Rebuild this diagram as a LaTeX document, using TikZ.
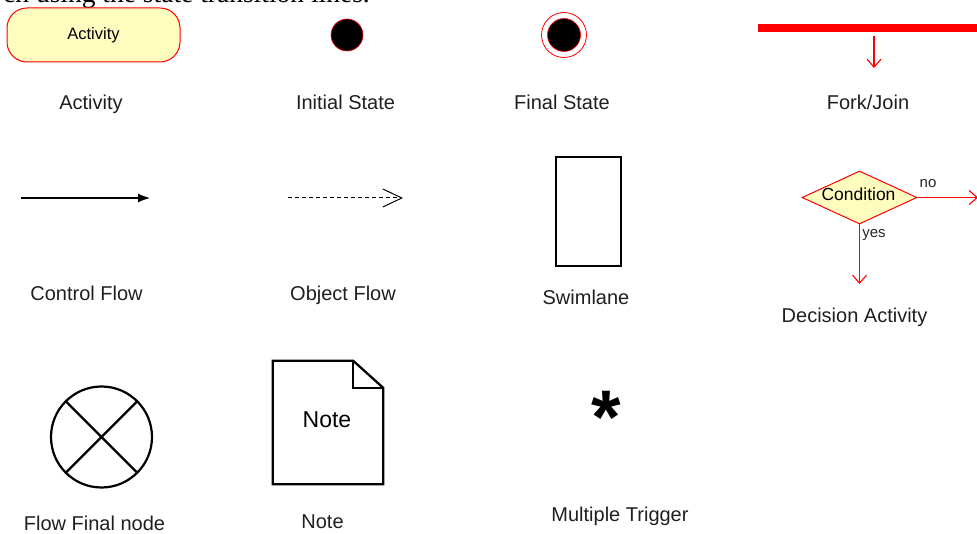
\documentclass[tikz,border=0pt]{standalone}
\usepackage{fontspec}
\setmainfont{Liberation Sans}
\newfontfamily\bodyserif{Liberation Serif}
\usetikzlibrary{arrows.meta,shapes.geometric}

\begin{document}
\begin{tikzpicture}[x=1pt,y=-1pt,
    lbl/.style={anchor=base,font=\fontsize{20}{24}\selectfont,text=black!88},
    small/.style={font=\fontsize{15}{18}\selectfont,text=black!85},
    pale/.style={fill=yellow!25},
    redline/.style={red,line width=1.1pt},
    openhead/.style={-{Straight Barb[length=8pt,width=14pt]}}]

\useasboundingbox (0,0) rectangle (977,534);

% last line of the text above the table
\node [anchor=base east,inner sep=0,font=\bodyserif\fontsize{27.5}{30}\selectfont] (txt) at (370,2.5) {ch using the state transition lines.};

%%%%%%%%%%%%%%%%%%%%%% ROW 1 %%%%%%%%%%%%%%%%%%%%%%

% Activity
\node [draw=red,line width=1pt,pale,rounded corners=20pt,minimum width=173pt,minimum height=54pt,
       font=\fontsize{16.5}{20}\selectfont] (act) at (93.5,35) {Activity};
    \node [lbl] (actlbl) at (91,110) {Activity};

% Initial state
\node [circle,fill=black,draw=red,line width=0.6pt,minimum size=32pt,inner sep=0] (init) at (347,35) {};
    \node [lbl] (initlbl) at (345.5,110) {Initial State};

% Final state
\node [circle,draw=red,line width=0.8pt,minimum size=45pt,inner sep=0] (finring) at (564,35) {};
\node [circle,fill=black,draw=red,line width=0.6pt,minimum size=33pt,inner sep=0] (findot) at (finring) {};
    \node [lbl] (finlbl) at (562,110) {Final State};

% Fork/Join
\node [fill=red,minimum width=240pt,minimum height=7.5pt,inner sep=0,anchor=west] (bar) at (758,28) {};
\coordinate (forkend) at (874,68);
\draw [redline,openhead,shorten <=4pt] (bar.south -| forkend) to (forkend);
    \node [lbl] (forklbl) at (868,110) {Fork/Join};

%%%%%%%%%%%%%%%%%%%%%% ROW 2 %%%%%%%%%%%%%%%%%%%%%%

% Control flow
\coordinate (cfa) at (21,198);
\coordinate (cfb) at (150,198);
\draw [line width=1.2pt,-{Latex[length=12pt,width=9pt]}] (cfa) to (cfb);
    \node [lbl] (cflbl) at (86.5,301) {Control Flow};

% Object flow
\coordinate (ofa) at (288,198);
\coordinate (ofb) at (403,198);
\draw [line width=1pt,dash pattern=on 4pt off 3pt,-{Straight Barb[length=19pt,width=18pt]}] (ofa) to (ofb);
    \node [lbl] (oflbl) at (343,301) {Object Flow};

% Swimlane
\node [draw,line width=1.3pt,minimum width=65pt,minimum height=109pt,inner sep=0] (lane) at (588.5,211.5) {};
    \node [lbl] (lanelbl) at (586,305) {Swimlane};

% Decision
\node [diamond,aspect=2.17,draw=red,line width=1pt,pale,minimum width=115pt,minimum height=53pt,inner sep=0] (cond) at (859.5,197.5) {};
    \node [font=\fontsize{17.5}{20}\selectfont,inner sep=0] (condtxt) at (858.5,194) {Condition};
\coordinate (noend) at (978,197.5);
\coordinate (yesend) at (859.5,284);
\draw [redline,openhead] (cond.east) to (noend);
\draw [redline,openhead] (cond.south) to (yesend);
    \node [small] (nolbl) at (928,184) {no};
    \node [small] (yeslbl) at (874,235) {yes};
    \node [lbl] (declbl) at (854.5,323) {Decision Activity};

%%%%%%%%%%%%%%%%%%%%%% ROW 3 %%%%%%%%%%%%%%%%%%%%%%

% Flow final
\node [circle,draw,line width=2.2pt,minimum size=101pt,inner sep=0] (ffin) at (101.5,437) {};
\draw [line width=2.2pt] (ffin.45) to (ffin.225);
\draw [line width=2.2pt] (ffin.135) to (ffin.315);
    \node [lbl] (ffinlbl) at (94.5,530) {Flow Final node};

% Note with folded corner
\node [minimum width=110pt,minimum height=123pt,inner sep=0] (note) at (328,422.5) {};
\draw [line width=2.3pt] (note.north west) to ([xshift=-30pt]note.north east)
    to ([yshift=-27pt]note.north east) to (note.south east) to (note.south west) to cycle;
\draw [line width=2.3pt] ([xshift=-30pt]note.north east) to ([xshift=-30pt,yshift=-27pt]note.north east)
    to ([yshift=-27pt]note.north east);
    \node [font=\fontsize{23}{26}\selectfont] (notetxt) at (327,420) {Note};
    \node [lbl] (notelbl) at (322.5,528) {Note};

% Multiple trigger
\node [anchor=base,inner sep=0,font=\bfseries\fontsize{76}{76}\selectfont] (trig) at (605.8,443) {*};
    \node [lbl] (triglbl) at (620,521) {Multiple Trigger};

\end{tikzpicture}
\end{document}
